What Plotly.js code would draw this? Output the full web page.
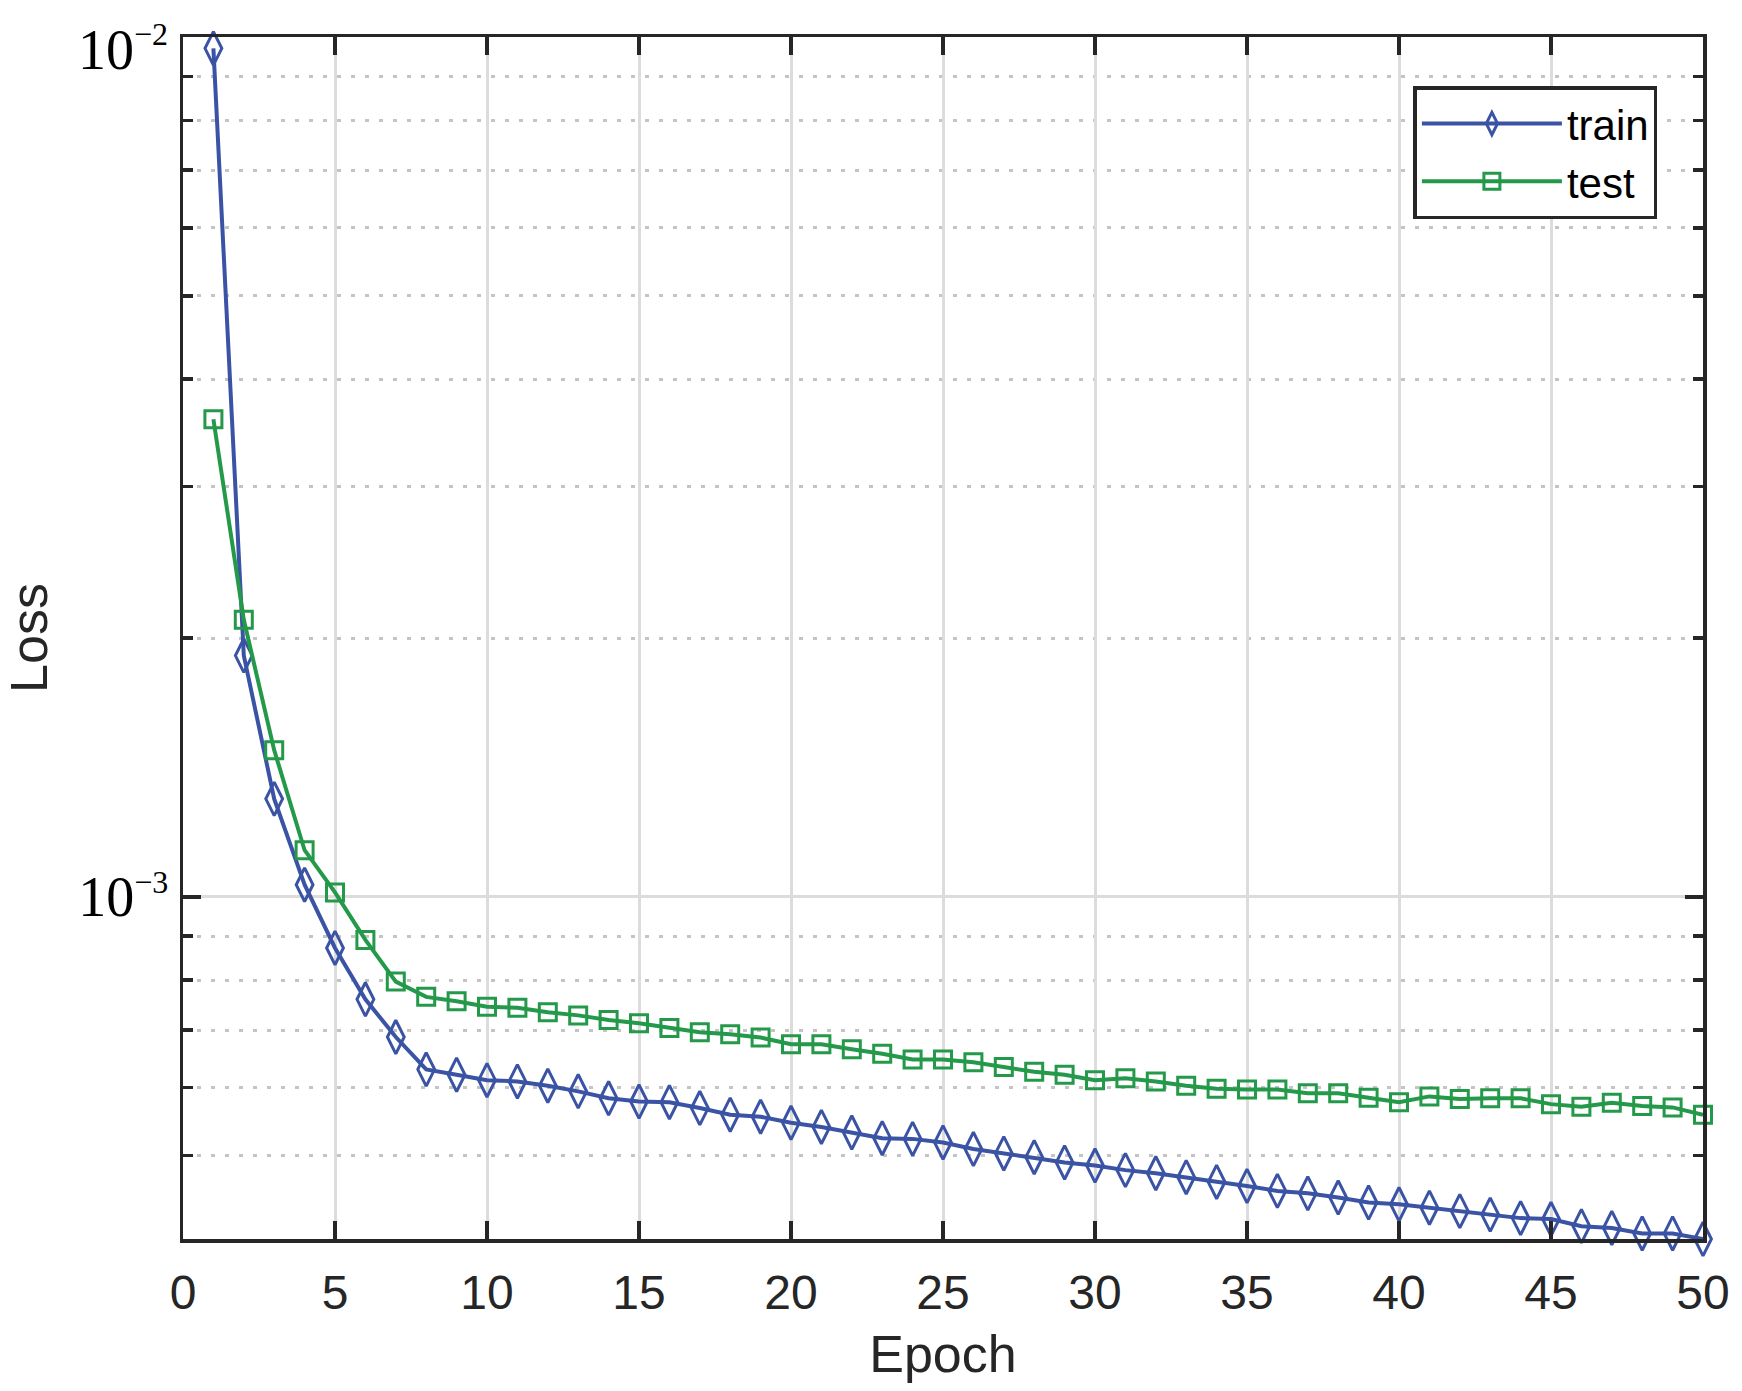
<!DOCTYPE html>
<html>
<head>
<meta charset="utf-8">
<script src="https://cdn.plot.ly/plotly-3.0.1.min.js"></script>
<style>html,body{margin:0;padding:0;background:#fff;}#chart{width:1742px;height:1391px;}</style>
</head>
<body>
<div id="chart"></div>
<script>
const epochs = Array.from({length: 50}, (_, i) => i + 1);
const trainLoss = [
  9.7e-3, 1.908e-3, 1.30e-3, 1.033e-3, 8.72e-4, 7.60e-4, 6.87e-4, 6.30e-4, 6.21e-4, 6.12e-4,
  6.10e-4, 6.03e-4, 5.94e-4, 5.83e-4, 5.78e-4, 5.77e-4, 5.68e-4, 5.58e-4, 5.55e-4, 5.46e-4,
  5.40e-4, 5.32e-4, 5.24e-4, 5.23e-4, 5.18e-4, 5.09e-4, 5.03e-4, 4.98e-4, 4.91e-4, 4.87e-4,
  4.81e-4, 4.77e-4, 4.72e-4, 4.66e-4, 4.61e-4, 4.55e-4, 4.52e-4, 4.47e-4, 4.41e-4, 4.39e-4,
  4.35e-4, 4.31e-4, 4.27e-4, 4.23e-4, 4.22e-4, 4.14e-4, 4.12e-4, 4.06e-4, 4.06e-4, 4.00e-4
];
const testLoss = [
  3.593e-3, 2.10e-3, 1.481e-3, 1.133e-3, 1.012e-3, 8.91e-4, 7.97e-4, 7.65e-4, 7.56e-4, 7.45e-4,
  7.43e-4, 7.34e-4, 7.28e-4, 7.19e-4, 7.13e-4, 7.04e-4, 6.96e-4, 6.92e-4, 6.86e-4, 6.74e-4,
  6.74e-4, 6.65e-4, 6.57e-4, 6.47e-4, 6.47e-4, 6.42e-4, 6.34e-4, 6.26e-4, 6.21e-4, 6.12e-4,
  6.15e-4, 6.10e-4, 6.03e-4, 5.98e-4, 5.97e-4, 5.97e-4, 5.91e-4, 5.91e-4, 5.84e-4, 5.77e-4,
  5.86e-4, 5.82e-4, 5.83e-4, 5.83e-4, 5.74e-4, 5.70e-4, 5.76e-4, 5.71e-4, 5.69e-4, 5.58e-4
];
const xTickVals = [0, 5, 10, 15, 20, 25, 30, 35, 40, 45, 50];
const yTickVals = [1e-3, 1e-2];
const supStyle = 'font-size:32px';
const yTickText = [
  '10<sup><span style="' + supStyle + '">\u22123</span></sup>',
  '10<sup><span style="' + supStyle + '">\u22122</span></sup>'
];
const yMinorVals = [4e-4, 5e-4, 6e-4, 7e-4, 8e-4, 9e-4, 2e-3, 3e-3, 4e-3, 5e-3, 6e-3, 7e-3, 8e-3, 9e-3];
const seriesNames = ['train', 'test'];

const axisColor = '#262626';
const serifFont = '"Liberation Serif", "Times New Roman", serif';
const traces = [
  {
    x: epochs, y: trainLoss, name: seriesNames[0], type: 'scatter', mode: 'lines+markers',
    line: {color: '#3a53a4', width: 4},
    marker: {symbol: 'diamond-tall-open', size: 24, color: '#3a53a4', line: {width: 3, color: '#3a53a4'}},
    cliponaxis: false
  },
  {
    x: epochs, y: testLoss, name: seriesNames[1], type: 'scatter', mode: 'lines+markers',
    line: {color: '#24994a', width: 4},
    marker: {symbol: 'square-open', size: 17, color: '#24994a', line: {width: 3, color: '#24994a'}},
    cliponaxis: false
  }
];

// the top label (10^-2) sits just below the top tick, as in the reference, so it is placed as an annotation
const axisTickText = [yTickText[0], ''];

const layout = {
  width: 1742, height: 1391,
  paper_bgcolor: '#ffffff', plot_bgcolor: '#ffffff',
  font: {family: '"Liberation Sans", Arial, sans-serif', color: axisColor, size: 48},
  margin: {l: 183, r: 39, t: 37, b: 152, pad: 0},
  showlegend: true,
  legend: {
    x: 0.970, y: 0.959, xanchor: 'right', yanchor: 'top',
    bgcolor: '#ffffff', bordercolor: axisColor, borderwidth: 3.5,
    font: {size: 42, color: '#000000', family: '"Liberation Sans", Arial, sans-serif'},
    itemwidth: 140, tracegroupgap: 0
  },
  annotations: [{
    xref: 'paper', yref: 'paper', x: 0, y: 1, xanchor: 'right', yanchor: 'middle',
    xshift: -13, yshift: -11, showarrow: false, text: yTickText[1],
    font: {size: 56, color: '#000000', family: serifFont}
  }],
  xaxis: {
    range: [0, 50], tickmode: 'array', tickvals: xTickVals,
    ticks: 'inside', ticklen: 18, tickwidth: 3.5, tickcolor: axisColor,
    showline: true, linecolor: axisColor, linewidth: 3.5, mirror: 'ticks',
    showgrid: true, gridcolor: '#dcdcdc', gridwidth: 3, zeroline: false,
    tickfont: {size: 48, color: axisColor}, ticklabelstandoff: 9,
    title: {text: 'Epoch', font: {size: 52, color: axisColor}, standoff: 18}
  },
  yaxis: {
    type: 'log', range: [Math.log10(4e-4), -2],
    tickmode: 'array', tickvals: yTickVals, ticktext: axisTickText,
    ticks: 'inside', ticklen: 18, tickwidth: 3.5, tickcolor: axisColor,
    showline: true, linecolor: axisColor, linewidth: 3.5, mirror: 'ticks',
    showgrid: true, gridcolor: '#dcdcdc', gridwidth: 3, zeroline: false,
    tickfont: {size: 56, color: '#000000', family: serifFont},
    minor: {
      tickmode: 'array', tickvals: yMinorVals,
      ticks: 'inside', ticklen: 10, tickwidth: 3.5, tickcolor: axisColor,
      showgrid: true, gridcolor: '#c4c4c4', gridwidth: 3, griddash: '4px,10px'
    },
    title: {text: 'Loss', font: {size: 52, color: axisColor}, standoff: 26}
  }
};

Plotly.newPlot('chart', traces, layout, {displayModeBar: false, staticPlot: true});
</script>
</body>
</html>
